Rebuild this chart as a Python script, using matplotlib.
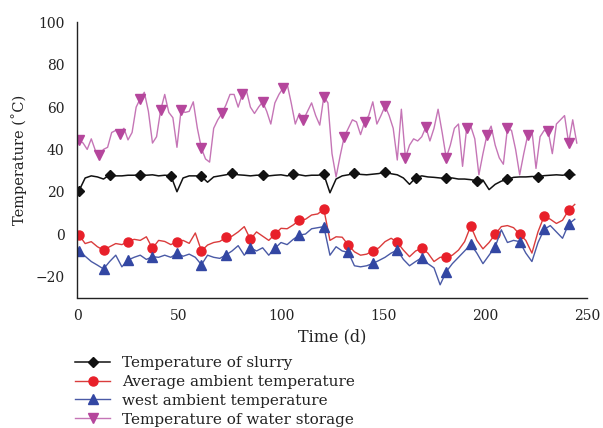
import numpy as np
import matplotlib
matplotlib.use("Agg")
import matplotlib.pyplot as plt

# ---------------- data ----------------
# Temperature of water storage, days 1,3,...,245
water_days = list(range(1, 246, 2))
water_vals = [44.5, 43, 40, 45, 39.5, 37.5, 40, 41, 48, 49,
              47.5, 50, 44.5, 48, 60, 64, 67, 58, 43, 46,
              58.5, 66, 57.5, 55, 41, 58.5, 57.5, 58, 62.5, 50,
              40.5, 35.5, 34, 50, 54, 57, 61, 66, 66, 60,
              66, 68, 60, 57, 60, 62.5, 58, 52, 62, 66,
              69, 71, 62, 52, 57, 54, 58, 62, 56, 51.5,
              65, 62, 38, 27, 37, 46, 50, 54, 53, 47,
              53, 56, 62.5, 52, 56, 60.5, 56, 50, 35, 59,
              36, 42, 45, 44, 46, 50.5, 44, 50, 59, 48,
              36, 42, 50, 52, 32, 50, 51, 45, 28, 38,
              47, 51, 42, 36, 33, 50, 49, 40, 28, 38,
              47, 49, 31, 46, 49, 48.5, 38, 52, 54, 56,
              43, 54, 43]

# Slurry, average ambient and west ambient: days 1,4,...,244
grid_days = list(range(1, 245, 3))
slurry_vals = [20.5, 26.5, 27.5, 27, 26, 28, 27.5, 27.5, 27.8, 27.8,
               28, 27.8, 28, 27.5, 27.8, 27.6, 20, 26.5, 27.5, 27.5,
               27.2, 24.5, 27, 27.5, 28, 28.7, 28, 27.8, 27.5, 27.8,
               27.8, 27.5, 27.8, 28, 27.5, 28.2, 28, 27.5, 27.8, 27.8,
               28.2, 19.5, 26, 27.5, 28, 28.7, 28.2, 28, 28.3, 28.6,
               29.5, 28.5, 28, 26.5, 23.5, 26.6, 27.5, 27, 26.8, 26.5,
               26.3, 26.5, 26, 26, 25.7, 25.2, 25.5, 21, 23.5, 25,
               25.8, 26.8, 27, 27, 27.2, 27.1, 27.6, 27.8, 28, 27.8,
               28.2, 28]
avg_vals = [-0.5, -4.5, -3.6, -6, -7.6, -6, -4.5, -5, -3.6, -2.5,
            -3, -1.3, -6.8, -3, -3.5, -5, -3.6, -3, -4.4, 0.5,
            -8, -5.2, -4, -3.5, -1.6, -1, 1, 3.5, -2.5, 1,
            -1, -3, -0.1, 2.7, 2.5, 4.3, 6.6, 7, 9, 9.5,
            11.7, -3, -1.3, -1.5, -5.2, -8.4, -10, -9.5, -8, -6.5,
            -3.6, -2, -3.9, -7.6, -10.7, -8, -6.8, -9, -13, -11,
            -10.9, -10, -7.6, -3.6, 3.8, -3, -7, -4, -0.1, 3.5,
            4, 3, -0.1, -3, -9, 1.1, 8.5, 7, 5, 6.5,
            11.3, 14]
west_vals = [-8, -10.5, -13, -14.7, -16.5, -13, -10, -15.5, -12.3, -11,
             -10, -12, -10.7, -11, -10, -11, -9.1, -10.5, -9.5, -11,
             -14.5, -10, -11, -11.5, -9.9, -8, -5.5, -10, -6.5, -8,
             -6.5, -10, -6.8, -4, -5, -2.5, -0.5, 0, 2.5, 3,
             3.5, -10, -6, -8, -8.7, -15, -15.5, -15, -13.9, -12.5,
             -11, -9, -7.6, -12, -15, -13, -11.2, -14, -16, -24,
             -17.8, -14, -11, -8, -4.9, -9, -14, -10, -6, 2,
             -4, -3, -3.6, -9, -13, -4, 2.2, 4, 1, -2,
             4.7, 7]

labels = ["Temperature of slurry", "Average ambient temperature",
          "west ambient temperature", "Temperature of water storage"]
x_ticks = [0, 50, 100, 150, 200, 250]
y_ticks = [-20, 0, 20, 40, 60, 80, 100]

# ---------------- figure ----------------
plt.rcParams['font.family'] = ['DejaVu Serif']
fig = plt.figure(figsize=(6.03, 4.28), dpi=100)
ax = fig.add_axes([77/603, 1-297.5/428, 510/603, 275/428])

h_s, = ax.plot(grid_days, slurry_vals, color='#111111', lw=1.1,
               marker='D', ms=5, markevery=5, mfc='#111111', mec='#111111')
h_a, = ax.plot(grid_days, avg_vals, color='#DA3C3C', lw=1.0,
               marker='o', ms=6.5, markevery=4, mfc='#E8202A', mec='#E8202A')
h_w, = ax.plot(grid_days, west_vals, color='#4A5AA6', lw=1.0,
               marker='^', ms=7, markevery=4, mfc='#3347A3', mec='#3347A3')
h_t, = ax.plot(water_days, water_vals, color='#C575B6', lw=1.0,
               marker='v', ms=7, markevery=5, mfc='#B5469C', mec='#B5469C')

ax.set_xlim(0, 250)
ax.set_ylim(-30, 100)
ax.set_xticks(x_ticks)
ax.set_yticks(y_ticks)
ax.set_yticklabels(['\u221220' if v < 0 else str(v) for v in y_ticks])
ax.tick_params(axis='both', length=0, labelsize=10, colors='#222222')
ax.tick_params(axis='y', pad=9)
ax.tick_params(axis='x', pad=8)
for s in ['top', 'right']:
    ax.spines[s].set_visible(False)
for s in ['left', 'bottom']:
    ax.spines[s].set_linewidth(1.0)
    ax.spines[s].set_color('#222222')

ax.set_xlabel('Time (d)', fontsize=11.5, labelpad=4, color='#222222')
ax.set_ylabel('Temperature (\u02daC)', fontsize=10.5, labelpad=6, color='#222222')

leg = fig.legend([h_s, h_a, h_w, h_t], labels, loc='upper left',
                 bbox_to_anchor=(75/603, 1-356/428), frameon=False,
                 borderpad=0, borderaxespad=0, numpoints=1,
                 handlelength=2.3, handletextpad=0.75, labelspacing=0.32,
                 fontsize=11)
for t in leg.get_texts():
    t.set_color('#222222')

fig.savefig('out.png', dpi=100)
